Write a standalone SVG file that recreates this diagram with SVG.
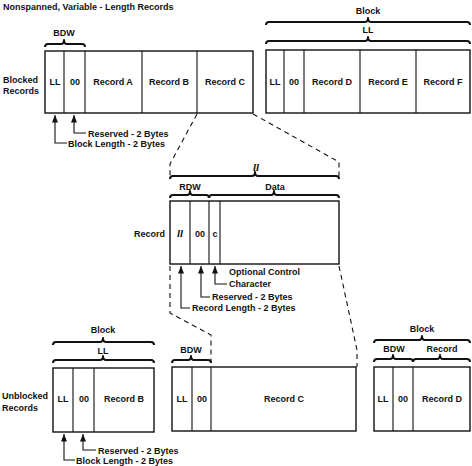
<svg xmlns="http://www.w3.org/2000/svg" width="472" height="466" viewBox="0 0 472 466">
<defs>
<style>
text{font-family:"Liberation Sans",Arial,sans-serif;font-size:9px;font-weight:bold;fill:#111}
.c{text-anchor:middle}
.box{fill:#fff;stroke:#111;stroke-width:1.4}
.div{stroke:#111;stroke-width:1.1;fill:none}
.br{fill:none;stroke:#111;stroke-width:2;stroke-linejoin:round}
.dash{fill:none;stroke:#111;stroke-width:1.1;stroke-dasharray:5 4}
.arr{fill:none;stroke:#111;stroke-width:1.1;marker-start:url(#ah)}
.it{font-style:italic;font-family:"Liberation Serif",serif;font-size:11px}
</style>
<marker id="ah" viewBox="0 0 10 8" refX="10" refY="4" markerWidth="8" markerHeight="6" orient="auto-start-reverse" markerUnits="userSpaceOnUse">
<path d="M0,0 L10,4 L0,8 Z" fill="#111"/>
</marker>
</defs>
<text x="3" y="10">Nonspanned, Variable - Length Records</text>
<g id="blocked-label"><text x="3" y="83">Blocked</text><text x="3" y="94">Records</text></g>
<g id="block1">
<rect class="box" x="45" y="51" width="208" height="62"/>
<path class="div" d="M64,51V113M85,51V113M142,51V113M197,51V113"/>
<text class="c" x="55" y="85">LL</text><text class="c" x="75" y="85">00</text>
<text class="c" x="113" y="85">Record A</text><text class="c" x="169" y="85">Record B</text><text class="c" x="225" y="85">Record C</text>
<text class="c" x="64" y="36">BDW</text>
<path class="br" d="M45,47 Q45,44 48,44 L61,44 Q64,44 64,40 Q64,44 67,44 L82,44 Q85,44 85,47"/>
</g>
<g id="block2">
<rect class="box" x="266" y="50" width="204" height="63"/>
<path class="div" d="M284,50V113M304,50V113M360,50V113M416,50V113"/>
<text class="c" x="275" y="85">LL</text><text class="c" x="294" y="85">00</text>
<text class="c" x="332" y="85">Record D</text><text class="c" x="388" y="85">Record E</text><text class="c" x="443" y="85">Record F</text>
<text class="c" x="368" y="14">Block</text>
<path class="br" d="M266,25 Q266,22 269,22 L365,22 Q368,22 368,18 Q368,22 371,22 L467,22 Q470,22 470,25"/>
<text class="c" x="368" y="33">LL</text>
<path class="br" d="M266,44 Q266,41 269,41 L365,41 Q368,41 368,37 Q368,41 371,41 L467,41 Q470,41 470,44"/>
</g>
<g id="ann1">
<path class="arr" d="M55,115 V143 H67"/><path class="arr" d="M74,115 V133 H86"/>
<text x="88" y="137">Reserved - 2 Bytes</text>
<text x="68" y="147">Block Length - 2 Bytes</text>
</g>
<g id="record">
<text x="134" y="237">Record</text>
<rect class="box" x="170" y="201" width="169" height="63"/>
<path class="div" d="M190,201V264M209,201V264M220,201V264"/>
<text class="c it" x="180" y="237">ll</text><text class="c" x="200" y="237">00</text><text class="c" x="215" y="237">c</text>
<text class="c it" x="256" y="171">ll</text>
<path class="br" d="M170,179 Q170,176 173,176 L252,176 Q255,176 255,172 Q255,176 258,176 L336,176 Q339,176 339,179"/>
<text class="c" x="190" y="190">RDW</text>
<path class="br" d="M170,198 Q170,195 173,195 L187,195 Q190,195 190,191 Q190,195 193,195 L206,195 Q209,195 209,198"/>
<text class="c" x="275" y="190">Data</text>
<path class="br" d="M209,198 Q209,195 212,195 L271,195 Q274,195 274,191 Q274,195 277,195 L336,195 Q339,195 339,198"/>
<path class="arr" d="M181,266 V308 H190"/><path class="arr" d="M201,266 V297 H210"/><path class="arr" d="M215,266 V284 H227"/>
<text x="229" y="275">Optional Control</text>
<text x="229" y="287">Character</text>
<text x="212" y="300">Reserved - 2 Bytes</text>
<text x="192" y="311">Record Length - 2 Bytes</text>
</g>
<g id="unblocked-label"><text x="2" y="399">Unblocked</text><text x="2" y="411">Records</text></g>
<g id="blockB">
<rect class="box" x="53" y="368" width="101" height="64"/>
<path class="div" d="M73,368V432M94,368V432"/>
<text class="c" x="63" y="402">LL</text><text class="c" x="84" y="402">00</text><text class="c" x="124" y="402">Record B</text>
<text class="c" x="103" y="333">Block</text>
<path class="br" d="M53,345 Q53,342 56,342 L100,342 Q103,342 103,338 Q103,342 106,342 L151,342 Q154,342 154,345"/>
<text class="c" x="103" y="354">LL</text>
<path class="br" d="M53,363 Q53,360 56,360 L100,360 Q103,360 103,356 Q103,360 106,360 L151,360 Q154,360 154,363"/>
<path class="arr" d="M64,434 V460 H75"/><path class="arr" d="M83,434 V450 H96"/>
<text x="98" y="454">Reserved - 2 Bytes</text>
<text x="76" y="464">Block Length - 2 Bytes</text>
</g>
<g id="blockC">
<rect class="box" x="172" y="367" width="184" height="64"/>
<path class="div" d="M192,367V431M211,367V431"/>
<text class="c" x="182" y="402">LL</text><text class="c" x="202" y="402">00</text><text class="c" x="284" y="402">Record C</text>
<text class="c" x="191" y="353">BDW</text>
<path class="br" d="M172,363 Q172,360 175,360 L188,360 Q191,360 191,356 Q191,360 194,360 L208,360 Q211,360 211,363"/>
</g>
<g id="blockD">
<rect class="box" x="374" y="367" width="96" height="64"/>
<path class="div" d="M393,367V431M413,367V431"/>
<text class="c" x="383" y="402">LL</text><text class="c" x="403" y="402">00</text><text class="c" x="442" y="402">Record D</text>
<text class="c" x="422" y="332">Block</text>
<path class="br" d="M374,343 Q374,340 377,340 L419,340 Q422,340 422,336 Q422,340 425,340 L467,340 Q470,340 470,343"/>
<text class="c" x="394" y="352">BDW</text>
<path class="br" d="M374,362 Q374,359 377,359 L390,359 Q393,359 393,355 Q393,359 396,359 L410,359 Q413,359 413,362"/>
<text class="c" x="442" y="352">Record</text>
<path class="br" d="M413,362 Q413,359 416,359 L437,359 Q440,359 440,355 Q440,359 443,359 L467,359 Q470,359 470,362"/>
</g>
<g id="connectors">
<path class="dash" d="M197,114 L170,164 V178"/>
<path class="dash" d="M253,114 L339,162 V178"/>
<path class="dash" d="M170,266 V313 L211,335 V362"/>
<path class="dash" d="M339,266 L357,350 V367"/>
</g>
</svg>
